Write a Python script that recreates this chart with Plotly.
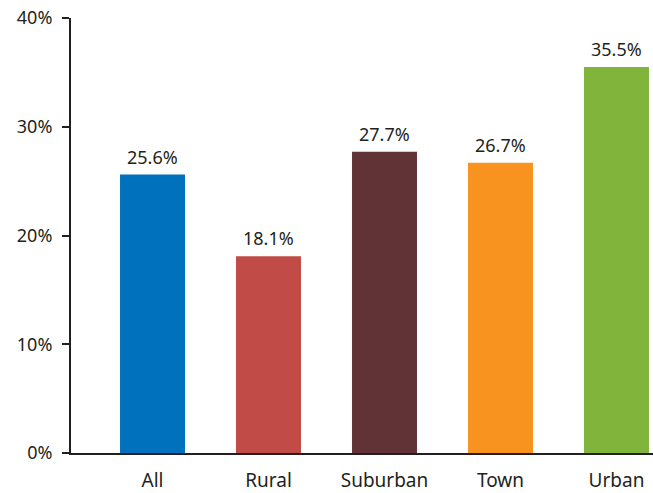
import plotly.graph_objects as go

# Share of respondents by locale
categories = ["All", "Rural", "Suburban", "Town", "Urban"]
values = [25.6, 18.1, 27.7, 26.7, 35.5]
bar_colors = ["#0071bc", "#c04b47", "#613236", "#f7931e", "#80b43a"]
y_ticks = [0, 10, 20, 30, 40]
y_tick_labels = ["0%", "10%", "20%", "30%", "40%"]

ink = "#231f20"
font_family = "Noto Sans, Open Sans, sans-serif"

positions = list(range(len(categories)))

fig = go.Figure(
    go.Bar(
        x=positions,
        y=values,
        marker=dict(color=bar_colors, line=dict(width=0)),
        width=0.56,
        hoverinfo="skip",
    )
)

# Value labels sitting just above each bar
for xi, v in zip(positions, values):
    fig.add_annotation(
        x=xi,
        y=v,
        text=f"{v:.1f}%",
        showarrow=False,
        yanchor="bottom",
        yshift=4,
        font=dict(size=18, color=ink, family=font_family),
    )

fig.update_layout(
    width=653,
    height=493,
    margin=dict(l=71, r=0, t=18, b=38),
    plot_bgcolor="white",
    paper_bgcolor="white",
    showlegend=False,
    font=dict(family=font_family, size=18, color=ink),
)

fig.update_xaxes(
    range=[-0.7026, 4.3147],
    tickmode="array",
    tickvals=positions,
    ticktext=categories,
    showgrid=False,
    zeroline=False,
    showline=True,
    linecolor=ink,
    linewidth=2,
    ticks="",
    ticklabelstandoff=9,
    tickfont=dict(size=19, color=ink),
)

fig.update_yaxes(
    range=[0, 40],
    tickmode="array",
    tickvals=y_ticks,
    ticktext=y_tick_labels,
    showgrid=False,
    zeroline=False,
    showline=True,
    linecolor=ink,
    linewidth=2,
    ticks="outside",
    ticklen=7,
    tickwidth=2,
    tickcolor=ink,
    ticklabelstandoff=6,
    tickfont=dict(size=18, color=ink),
)

fig.write_html("out.html")
